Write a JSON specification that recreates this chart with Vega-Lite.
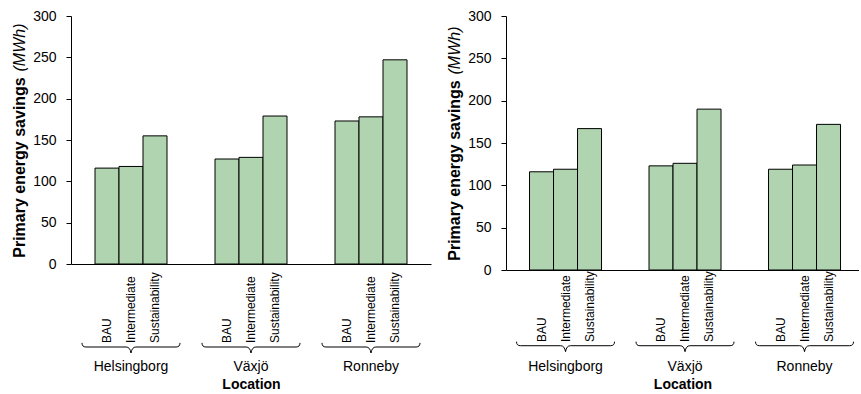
{
  "$schema": "https://vega.github.io/schema/vega-lite/v6.json",
  "padding": {"left": 11, "top": 9, "right": 0, "bottom": 0},
  "spacing": 15,
  "config": {"font": "Liberation Sans", "view": {"stroke": null}, "axis": {"grid": false}},
  "datasets": {
    "left": [
      {"location": "Helsingborg", "scenario": "BAU", "value": 116},
      {"location": "Helsingborg", "scenario": "Intermediate", "value": 118},
      {"location": "Helsingborg", "scenario": "Sustainability", "value": 155},
      {"location": "Växjö", "scenario": "BAU", "value": 127},
      {"location": "Växjö", "scenario": "Intermediate", "value": 129},
      {"location": "Växjö", "scenario": "Sustainability", "value": 179},
      {"location": "Ronneby", "scenario": "BAU", "value": 173},
      {"location": "Ronneby", "scenario": "Intermediate", "value": 178},
      {"location": "Ronneby", "scenario": "Sustainability", "value": 247}
    ],
    "right": [
      {"location": "Helsingborg", "scenario": "BAU", "value": 116},
      {"location": "Helsingborg", "scenario": "Intermediate", "value": 119},
      {"location": "Helsingborg", "scenario": "Sustainability", "value": 167},
      {"location": "Växjö", "scenario": "BAU", "value": 123},
      {"location": "Växjö", "scenario": "Intermediate", "value": 126},
      {"location": "Växjö", "scenario": "Sustainability", "value": 190},
      {"location": "Ronneby", "scenario": "BAU", "value": 119},
      {"location": "Ronneby", "scenario": "Intermediate", "value": 124},
      {"location": "Ronneby", "scenario": "Sustainability", "value": 172}
    ]
  },
  "hconcat": [
    {
      "width": 360,
      "height": 248,
      "data": {"name": "left"},
      "encoding": {
        "x": {
          "field": "location", "type": "nominal",
          "sort": ["Helsingborg", "Växjö", "Ronneby"],
          "scale": {"paddingInner": 0.4, "paddingOuter": 0.2},
          "axis": {"title": "Location", "labelAngle": 0, "labelPadding": 95, "ticks": false, "tickSize": 0,
                   "domainColor": "black", "labelFontSize": 14, "labelColor": "black",
                   "titleFontSize": 14, "titleFontWeight": "bold", "titlePadding": 4, "titleColor": "black"}
        }
      },
      "layer": [
        {
          "mark": {"type": "bar", "fill": "#b0d3b0", "stroke": "black", "strokeWidth": 1},
          "encoding": {
            "xOffset": {"field": "scenario", "type": "nominal", "sort": ["BAU", "Intermediate", "Sustainability"], "scale": {"paddingInner": 0, "paddingOuter": 0}},
            "y": {
              "field": "value", "type": "quantitative", "scale": {"domain": [0, 300]},
              "axis": {"orient": "left", "title": "Primary energy savings", "titleFontSize": 16, "titleFontWeight": "bold", "titleColor": "black",
                       "titleY": 151, "titlePadding": 5, "values": [0, 50, 100, 150, 200, 250, 300],
                       "domainColor": "black", "tickColor": "black", "tickSize": 5, "labelPadding": 10,
                       "labelFontSize": 14, "labelColor": "black"}
            }
          }
        },
        {
          "mark": {"type": "text", "angle": 270, "align": "left", "baseline": "middle", "dx": -79,
                   "font": "Liberation Sans", "fontSize": 12, "color": "black"},
          "encoding": {
            "xOffset": {"field": "scenario", "type": "nominal", "sort": ["BAU", "Intermediate", "Sustainability"]},
            "y": {"datum": 0, "type": "quantitative",
                  "axis": {"orient": "left", "title": "(MWh)", "titleFontSize": 16, "titleFontWeight": "normal", "titleFontStyle": "italic", "titleColor": "black",
                           "titleY": 31, "titlePadding": 5, "values": [0, 50, 100, 150, 200, 250, 300],
                           "domain": false, "tickOpacity": 0, "tickSize": 5, "labelPadding": 10, "labelFontSize": 14, "labelOpacity": 0}},
            "text": {"field": "scenario"}
          }
        },
        {
          "transform": [{"aggregate": [{"op": "count", "as": "n"}], "groupby": ["location"]}],
          "mark": {"type": "point", "shape": "M -1 1.61 Q -1 1.694 -0.92 1.694 L -0.1 1.694 Q -0.02 1.694 0 1.816 Q 0.02 1.694 0.1 1.694 L 0.92 1.694 Q 1 1.694 1 1.61",
                   "size": 9604, "filled": false, "stroke": "black", "strokeWidth": 1, "opacity": 1},
          "encoding": {"y": {"datum": 0, "type": "quantitative", "axis": null}}
        }
      ],
      "resolve": {"axis": {"y": "independent"}}
    },
    {
      "width": 353,
      "height": 254,
      "data": {"name": "right"},
      "encoding": {
        "x": {
          "field": "location", "type": "nominal",
          "sort": ["Helsingborg", "Växjö", "Ronneby"],
          "scale": {"paddingInner": 0.3975, "paddingOuter": 0.1757, "align": 0.56},
          "axis": {"title": "Location", "labelAngle": 0, "labelPadding": 89, "ticks": false, "tickSize": 0,
                   "domainColor": "black", "labelFontSize": 14, "labelColor": "black",
                   "titleFontSize": 14, "titleFontWeight": "bold", "titlePadding": 4, "titleColor": "black"}
        }
      },
      "layer": [
        {
          "mark": {"type": "bar", "fill": "#b0d3b0", "stroke": "black", "strokeWidth": 1},
          "encoding": {
            "xOffset": {"field": "scenario", "type": "nominal", "sort": ["BAU", "Intermediate", "Sustainability"], "scale": {"paddingInner": 0, "paddingOuter": 0}},
            "y": {
              "field": "value", "type": "quantitative", "scale": {"domain": [0, 300]},
              "axis": {"orient": "left", "title": "Primary energy savings", "titleFontSize": 16, "titleFontWeight": "bold", "titleColor": "black",
                       "titleY": 154, "titlePadding": 5, "values": [0, 50, 100, 150, 200, 250, 300],
                       "domainColor": "black", "tickColor": "black", "tickSize": 5, "labelPadding": 10,
                       "labelFontSize": 14, "labelColor": "black"}
            }
          }
        },
        {
          "mark": {"type": "text", "angle": 270, "align": "left", "baseline": "middle", "dx": -72,
                   "font": "Liberation Sans", "fontSize": 12, "color": "black"},
          "encoding": {
            "xOffset": {"field": "scenario", "type": "nominal", "sort": ["BAU", "Intermediate", "Sustainability"]},
            "y": {"datum": 0, "type": "quantitative",
                  "axis": {"orient": "left", "title": "(MWh)", "titleFontSize": 16, "titleFontWeight": "normal", "titleFontStyle": "italic", "titleColor": "black",
                           "titleY": 34, "titlePadding": 5, "values": [0, 50, 100, 150, 200, 250, 300],
                           "domain": false, "tickOpacity": 0, "tickSize": 5, "labelPadding": 10, "labelFontSize": 14, "labelOpacity": 0}},
            "text": {"field": "scenario"}
          }
        },
        {
          "transform": [{"aggregate": [{"op": "count", "as": "n"}], "groupby": ["location"]}],
          "mark": {"type": "point", "shape": "M -1 1.463 Q -1 1.545 -0.92 1.545 L -0.1 1.545 Q -0.02 1.545 0 1.667 Q 0.02 1.545 0.1 1.545 L 0.92 1.545 Q 1 1.545 1 1.463",
                   "size": 9604, "filled": false, "stroke": "black", "strokeWidth": 1, "opacity": 1},
          "encoding": {"y": {"datum": 0, "type": "quantitative", "axis": null}}
        }
      ],
      "resolve": {"axis": {"y": "independent"}}
    }
  ]
}
